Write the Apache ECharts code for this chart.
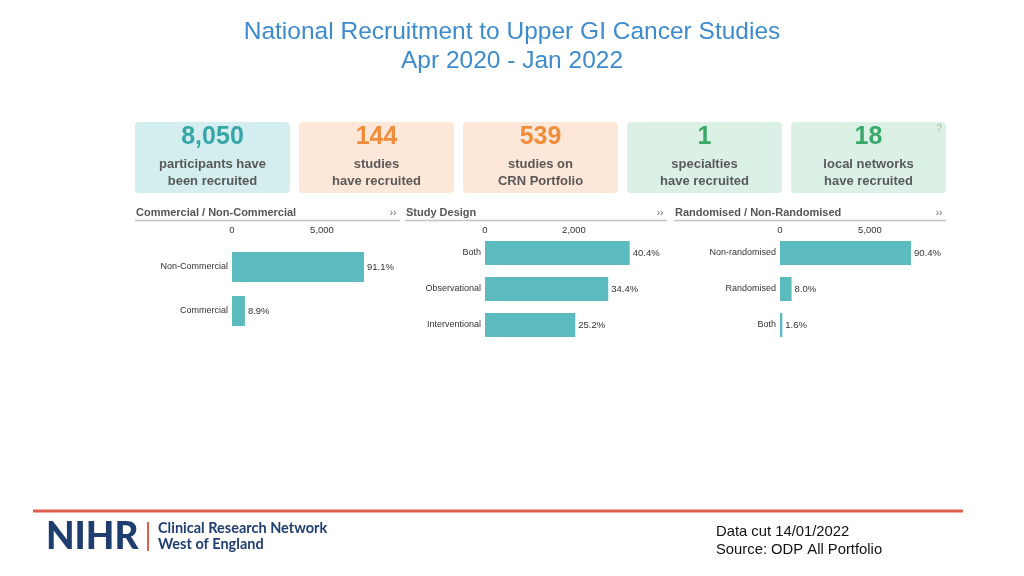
<!DOCTYPE html>
<html>
<head>
<meta charset="utf-8">
<script src="https://cdn.jsdelivr.net/npm/echarts@6/dist/echarts.min.js"></script>
<style>
html,body{margin:0;padding:0;background:#fff;}
#chart{width:1024px;height:576px;}
</style>
</head>
<body>
<div id="chart"></div>
<script>
// ---- data ----
const totalParticipants = 8050;
const kpiValues = [8050, 144, 539, 1, 18];
const kpiLabels = [
  ['participants have', 'been recruited'],
  ['studies', 'have recruited'],
  ['studies on', 'CRN Portfolio'],
  ['specialties', 'have recruited'],
  ['local networks', 'have recruited']
];
const commercialCategories = ['Non-Commercial', 'Commercial'];
const commercialValues = [7334, 716];
const designCategories = ['Both', 'Observational', 'Interventional'];
const designValues = [3252, 2769, 2029];
const randomCategories = ['Non-randomised', 'Randomised', 'Both'];
const randomValues = [7277, 644, 129];
const panelTitles = ['Commercial / Non-Commercial', 'Study Design', 'Randomised / Non-Randomised'];

// ---- styles ----
const FONT = '"Liberation Sans", Arial, sans-serif';
const cardBg = ['#d4eef0', '#fde7d8', '#fde7d8', '#dcf1e6', '#dcf1e6'];
const cardNum = ['#36a6a9', '#f08d3a', '#f08d3a', '#3aa86a', '#3aa86a'];
const barColor = '#5bbbbf';

const chart = echarts.init(document.getElementById('chart'), null, {renderer: 'canvas'});

const graphics = [];
// title
graphics.push({type: 'text', x: 512, y: 32, style: {text: 'National Recruitment to Upper GI Cancer Studies', font: '24.5px ' + FONT, fill: '#3d8bcd', align: 'center', verticalAlign: 'middle'}});
graphics.push({type: 'text', x: 512, y: 61, style: {text: 'Apr 2020 - Jan 2022', font: '24.5px ' + FONT, fill: '#3d8bcd', align: 'center', verticalAlign: 'middle'}});

// KPI cards
const cardX = [135, 299, 463, 627, 791];
for (let i = 0; i < kpiValues.length; i++) {
  const x = cardX[i], w = 155;
  graphics.push({type: 'rect', shape: {x: x, y: 122, width: w, height: 71, r: 4}, style: {fill: cardBg[i]}});
  graphics.push({type: 'text', x: x + w / 2, y: 137, style: {text: kpiValues[i].toLocaleString('en-GB'), font: 'bold 25px ' + FONT, fill: cardNum[i], align: 'center', verticalAlign: 'middle'}});
  graphics.push({type: 'text', x: x + w / 2, y: 164.5, style: {text: kpiLabels[i][0], font: 'bold 13px ' + FONT, fill: '#595959', align: 'center', verticalAlign: 'middle'}});
  graphics.push({type: 'text', x: x + w / 2, y: 181.5, style: {text: kpiLabels[i][1], font: 'bold 13px ' + FONT, fill: '#595959', align: 'center', verticalAlign: 'middle'}});
}
graphics.push({type: 'text', x: 939, y: 129, style: {text: '?', font: '10px ' + FONT, fill: '#b0b0b0', align: 'center', verticalAlign: 'middle'}});

// panel headers
const panelX = [[135, 400], [405, 667], [674, 946]];
for (let i = 0; i < 3; i++) {
  const [a, b] = panelX[i];
  graphics.push({type: 'text', x: a + 1, y: 213, style: {text: panelTitles[i], font: 'bold 11px ' + FONT, fill: '#555', verticalAlign: 'middle'}});
  graphics.push({type: 'text', x: b - 7, y: 213, style: {text: '››', font: '10px ' + FONT, fill: '#666', align: 'center', verticalAlign: 'middle'}});
  graphics.push({type: 'line', shape: {x1: a, y1: 220.5, x2: b, y2: 220.5}, style: {stroke: '#c4c4c4', lineWidth: 1.5}});
}

// footer
graphics.push({type: 'line', shape: {x1: 33, y1: 511, x2: 963, y2: 511}, style: {stroke: '#e0604f', lineWidth: 3}});
graphics.push({type: 'text', x: 46, y: 537, style: {text: 'NIHR', font: '900 37px Lato, ' + FONT, fill: '#1f3e70', verticalAlign: 'middle'}});
graphics.push({type: 'rect', shape: {x: 147, y: 522, width: 2, height: 29}, style: {fill: '#e0604f'}});
graphics.push({type: 'text', x: 158, y: 528, style: {text: 'Clinical Research Network', font: 'bold 14.5px Lato, ' + FONT, fill: '#1f3e70', verticalAlign: 'middle'}});
graphics.push({type: 'text', x: 158, y: 544, style: {text: 'West of England', font: 'bold 14.5px Lato, ' + FONT, fill: '#1f3e70', verticalAlign: 'middle'}});
graphics.push({type: 'text', x: 716, y: 532, style: {text: 'Data cut 14/01/2022', font: '14.8px ' + FONT, fill: '#111', verticalAlign: 'middle'}});
graphics.push({type: 'text', x: 716, y: 550, style: {text: 'Source: ODP All Portfolio', font: '14.8px ' + FONT, fill: '#111', verticalAlign: 'middle'}});

const pctFmt = p => (p.value / totalParticipants * 100).toFixed(1) + '%';

function xAx(gi, max, interval, margin) {
  return {
    gridIndex: gi, type: 'value', position: 'top', min: 0, max: max, interval: interval,
    axisLine: {show: false}, axisTick: {show: false}, splitLine: {show: false},
    axisLabel: {showMaxLabel: false, margin: margin, color: '#333', fontSize: 9.5, fontFamily: FONT,
      formatter: v => v.toLocaleString('en-GB')}
  };
}
function yAx(gi, cats) {
  return {
    gridIndex: gi, type: 'category', data: cats, inverse: true,
    axisLine: {show: false}, axisTick: {show: false},
    axisLabel: {margin: 4, color: '#333', fontSize: 9, fontFamily: FONT}
  };
}
function barSeries(i, data, w) {
  return {
    type: 'bar', xAxisIndex: i, yAxisIndex: i, data: data, barWidth: w,
    itemStyle: {color: barColor},
    label: {show: true, position: 'right', distance: 3, formatter: pctFmt, color: '#333', fontSize: 9.5, fontFamily: FONT},
    silent: true
  };
}

chart.setOption({
  backgroundColor: '#fff',
  animation: false,
  graphic: graphics,
  grid: [
    {left: 232, top: 245, width: 180, height: 88},
    {left: 485, top: 235, width: 178, height: 108},
    {left: 780, top: 235, width: 180, height: 108}
  ],
  xAxis: [xAx(0, 10000, 5000, 10), xAx(1, 4000, 2000, 0), xAx(2, 10000, 5000, 0)],
  yAxis: [yAx(0, commercialCategories), yAx(1, designCategories), yAx(2, randomCategories)],
  series: [
    barSeries(0, commercialValues, 30),
    barSeries(1, designValues, 24),
    barSeries(2, randomValues, 24)
  ]
});
</script>
</body>
</html>
